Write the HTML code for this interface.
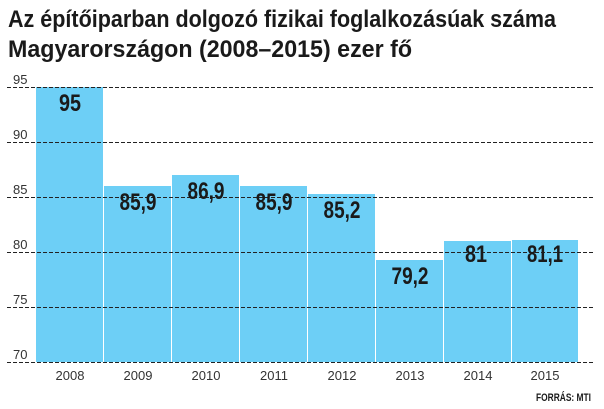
<!DOCTYPE html>
<html><head><meta charset="utf-8"><style>
html,body{margin:0;padding:0;background:#fff;}
svg{display:block;}
</style></head><body>
<svg width="604" height="409" xmlns="http://www.w3.org/2000/svg" font-family="Liberation Sans, sans-serif">
<rect width="604" height="409" fill="#fff"/>
<text x="8" y="27" font-size="24" font-weight="bold" fill="#1a1a1a" textLength="548" lengthAdjust="spacingAndGlyphs">Az építőiparban dolgozó fizikai foglalkozásúak száma</text>
<text x="8" y="57" font-size="24" font-weight="bold" fill="#1a1a1a" textLength="404" lengthAdjust="spacingAndGlyphs">Magyarországon (2008–2015) ezer fő</text>
<g fill="#6dcff6">
<rect x="36" y="87" width="67" height="275"/>
<rect x="104" y="186" width="67" height="176"/>
<rect x="172" y="175" width="67" height="187"/>
<rect x="240" y="186" width="67" height="176"/>
<rect x="308" y="194" width="67" height="168"/>
<rect x="376" y="260" width="67" height="102"/>
<rect x="444" y="241" width="67" height="121"/>
<rect x="512" y="240" width="66" height="122"/>
</g>
<g stroke="#222" stroke-width="1" stroke-dasharray="4,2">
<line x1="7" y1="87.5" x2="593" y2="87.5"/>
<line x1="7" y1="142.5" x2="593" y2="142.5"/>
<line x1="7" y1="197.5" x2="593" y2="197.5"/>
<line x1="7" y1="252.5" x2="593" y2="252.5"/>
<line x1="7" y1="307.5" x2="593" y2="307.5"/>
<line x1="7" y1="362.5" x2="593" y2="362.5"/>
</g>
<g font-size="13" fill="#333">
<text x="13" y="84">95</text>
<text x="13" y="139">90</text>
<text x="13" y="194">85</text>
<text x="13" y="249">80</text>
<text x="13" y="304">75</text>
<text x="13" y="359">70</text>
</g>
<g font-size="24" font-weight="bold" fill="#1a1a1a" text-anchor="middle">
<text x="70" y="111" textLength="22" lengthAdjust="spacingAndGlyphs">95</text>
<text x="138" y="210" textLength="37" lengthAdjust="spacingAndGlyphs">85,9</text>
<text x="206" y="199" textLength="37" lengthAdjust="spacingAndGlyphs">86,9</text>
<text x="274" y="210" textLength="37" lengthAdjust="spacingAndGlyphs">85,9</text>
<text x="342" y="218" textLength="37" lengthAdjust="spacingAndGlyphs">85,2</text>
<text x="410" y="284" textLength="37" lengthAdjust="spacingAndGlyphs">79,2</text>
<text x="476" y="262" textLength="22" lengthAdjust="spacingAndGlyphs">81</text>
<text x="545" y="262" textLength="36" lengthAdjust="spacingAndGlyphs">81,1</text>
</g>
<g font-size="13" fill="#333" text-anchor="middle">
<text x="70" y="380">2008</text>
<text x="138" y="380">2009</text>
<text x="206" y="380">2010</text>
<text x="274" y="380">2011</text>
<text x="342" y="380">2012</text>
<text x="410" y="380">2013</text>
<text x="478" y="380">2014</text>
<text x="545" y="380">2015</text>
</g>
<text x="591" y="401" font-size="11" font-weight="bold" fill="#1a1a1a" text-anchor="end" textLength="55" lengthAdjust="spacingAndGlyphs">FORRÁS: MTI</text>
</svg>
</body></html>
